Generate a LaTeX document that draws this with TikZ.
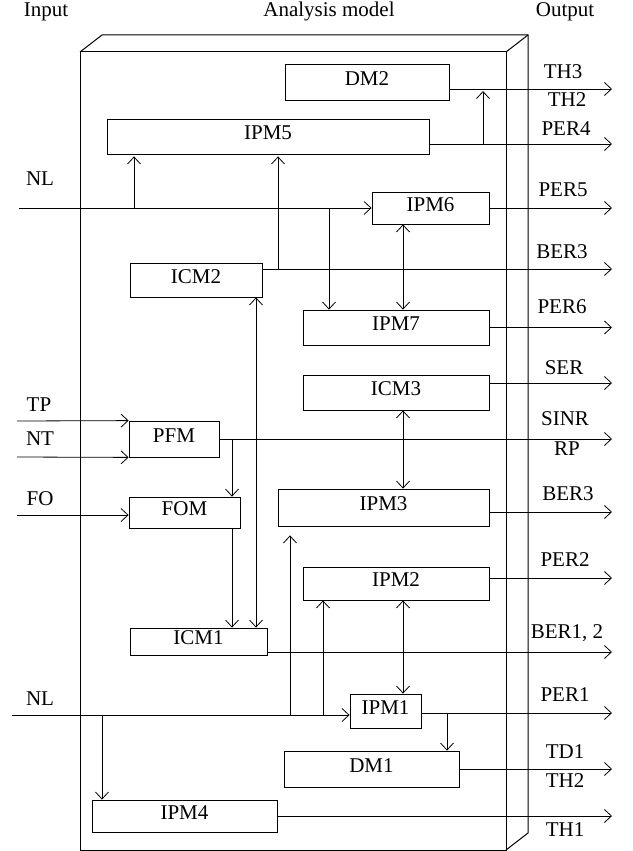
\documentclass[tikz,border=0pt]{standalone}
\usepackage{fontspec}
\setmainfont{Liberation Serif}
\usetikzlibrary{arrows.meta}
\usetikzlibrary{scopes}

\tikzset{
  txt/.style={font=\fontsize{21}{25}\selectfont, inner sep=0pt,
              text height=0.64em, text depth=0pt},
  blk/.style={txt, draw, rectangle, line width=0.8pt}
}

\begin{document}
\begin{tikzpicture}[x=1pt, y=-1pt, line width=0.8pt]
\useasboundingbox (0,0) rectangle (632,851);

% the block
\draw [line width=1pt] (80,52) rectangle (506,850);
\draw [line width=1pt] (80,52) -- (102,35) -- (528,35) -- (528,833) -- (506,850);
\draw [line width=1pt] (506,52) -- (528,35);

\begin{scope}[every node/.style={txt}]
    \node (hIn)  at (46,13)  {Input};
    \node (hMod) at (329,13) {Analysis model};
    \node (hOut) at (565,13) {Output};
    \node (lNLa) at (40,182) {NL};
    \node (lTP)  at (39,408) {TP};
    \node (lNT)  at (40,442) {NT};
    \node (lFO)  at (40,502) {FO};
    \node (lNLb) at (40,702) {NL};
    \node (lTHc) at (563,75)  {TH3};
    \node (lTHb) at (567,103) {TH2};
    \node (lPERd) at (566,132) {PER4};
    \node (lPERe) at (563,193) {PER5};
    \node (lBERa) at (562,255) {BER3};
    \node (lPERf) at (562,310) {PER6};
    \node (lSER)  at (564,371) {SER};
    \node (lSINR) at (565,422) {SINR};
    \node (lRP)   at (567,452) {RP};
    \node (lBERb) at (568,497) {BER3};
    \node (lPERb) at (565,563) {PER2};
    \node (lBERc) at (567,635) {BER1, 2};
    \node (lPERa) at (565,698) {PER1};
    \node (lTD)   at (565,755) {TD1};
    \node (lTHd)  at (565,784) {TH2};
    \node (lTHa)  at (565,833) {TH1};
\end{scope}

\begin{scope}[every node/.style={blk}]
    \node [minimum width=164pt, minimum height=36pt] (DM2)  at (367,82)      {DM2};
    \node [minimum width=322pt, minimum height=35pt] (IPM5) at (268,136.5)   {IPM5};
    \node [minimum width=117pt, minimum height=32pt] (IPM6) at (430.5,208)   {IPM6};
    \node [minimum width=132pt, minimum height=34pt] (ICM2) at (196,280)     {ICM2};
    \node [minimum width=186pt, minimum height=35pt] (IPM7) at (396,327.5)   {IPM7};
    \node [minimum width=186pt, minimum height=35pt] (ICM3) at (396,392.5)   {ICM3};
    \node [minimum width=90pt,  minimum height=36pt] (PFM)  at (174,439)     {PFM};
    \node [minimum width=111pt, minimum height=31pt] (FOM)  at (184.5,512.5) {FOM};
    \node [minimum width=211pt, minimum height=37pt] (IPM3) at (383.5,507.5) {IPM3};
    \node [minimum width=186pt, minimum height=33pt] (IPM2) at (396,583.5)   {IPM2};
    \node [minimum width=137pt, minimum height=27pt] (ICM1) at (198.5,641.5) {ICM1};
    \node [minimum width=71pt,  minimum height=34pt] (IPM1) at (385.5,711)   {IPM1};
    \node [minimum width=175pt, minimum height=36pt] (DM1)  at (371.5,769)   {DM1};
    \node [minimum width=185pt, minimum height=32pt] (IPM4) at (184.5,816)   {IPM4};
\end{scope}

% inputs, outputs and branch points
\coordinate (iNLa) at (19,208);
\coordinate (iTP)  at (17,421);
\coordinate (iNT)  at (17,457);
\coordinate (iFO)  at (17,515);
\coordinate (iNLb) at (12,715);
\coordinate (oTH)   at (612,89);
\coordinate (oPERd) at (612,144);
\coordinate (oPERe) at (612,208);
\coordinate (oBERa) at (612,269);
\coordinate (oPERf) at (612,327.5);
\coordinate (oSER)  at (612,383);
\coordinate (oSINR) at (612,439);
\coordinate (oBERb) at (612,512);
\coordinate (oPERb) at (612,578);
\coordinate (oBERc) at (612,652);
\coordinate (oPERa) at (612,713);
\coordinate (oTD)   at (612,769);
\coordinate (oTHa)  at (612,816);
\coordinate (jTH) at (483,144);
\coordinate (jA)  at (134,208);
\coordinate (jB)  at (278,269);
\coordinate (jC)  at (329,208);
\coordinate (jD)  at (403,0);
\coordinate (jE)  at (232,439);
\coordinate (jF)  at (256,0);
\coordinate (jG)  at (290,715);
\coordinate (jH)  at (323,715);
\coordinate (jI)  at (447,713);
\coordinate (jJ)  at (102,715);

\begin{scope}[>={Straight Barb[length=7pt,width=13pt]},
              every edge/.style={draw,line width=0.8pt}]
    \path [->] (DM2.east |- oTH) edge (oTH);
    \path [->] (IPM5.east |- oPERd) edge (oPERd);
    \path [->, shorten >=2pt] (jTH) edge (jTH |- oTH);
    \path [->] (iNLa) edge (IPM6);
    \path [->, shorten >=2pt] (jA) edge (jA |- IPM5.south);
    \path [->] (IPM6) edge (oPERe);
    \path [->] (ICM2.east |- oBERa) edge (oBERa);
    \path [->, shorten >=2pt] (jB) edge (jB |- IPM5.south);
    \path [->] (jC) edge (jC |- IPM7.north);
    \path [<->] (IPM6.south -| jD) edge (IPM7.north -| jD);
    \path [->] (IPM7) edge (oPERf);
    \path [->] (ICM3.east |- oSER) edge (oSER);
    \path [<->] (ICM3.south -| jD) edge (IPM3.north -| jD);
    \path [->] (iTP) edge (PFM.north west);
    \path [->] (iNT) edge (PFM.south west);
    \path [->] (PFM) edge (oSINR);
    \path [->] (jE) edge (jE |- FOM.north);
    \path [->] (iFO) edge (iFO -| FOM.west);
    \path [->] (FOM.south -| jE) edge (jE |- ICM1.north);
    \path [<->] (ICM2.south -| jF) edge (ICM1.north -| jF);
    \path [->] (IPM3.east |- oBERb) edge (oBERb);
    \path [->] (iNLb) edge (iNLb -| IPM1.west);
    \path [->, shorten >=9pt] (jG) edge (jG |- IPM3.south);
    \path [->] (jH) edge (jH |- IPM2.south);
    \path [<->] (IPM2.south -| jD) edge (IPM1.north -| jD);
    \path [->] (IPM2.east |- oPERb) edge (oPERb);
    \path [->] (ICM1.east |- oBERc) edge (oBERc);
    \path [->] (IPM1.east |- oPERa) edge (oPERa);
    \path [->] (jI) edge (jI |- DM1.north);
    \path [->] (DM1) edge (oTD);
    \path [->] (jJ) edge (jJ |- IPM4.north);
    \path [->] (IPM4) edge (oTHa);
\end{scope}
\end{tikzpicture}
\end{document}
